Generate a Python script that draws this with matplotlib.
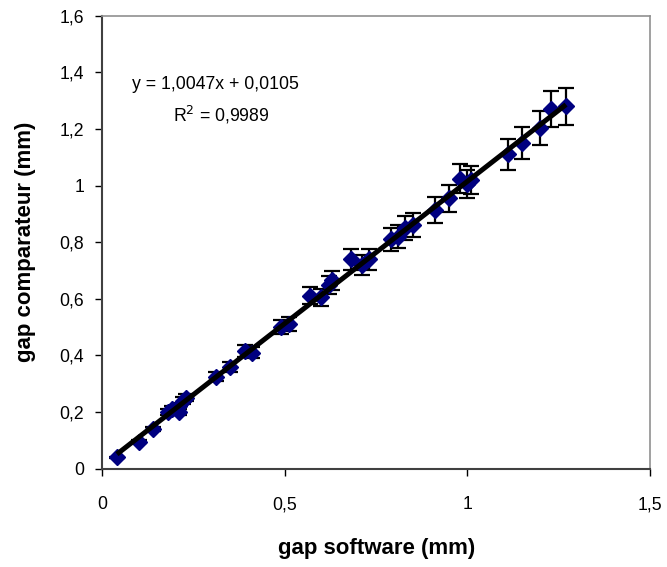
import numpy as np
import matplotlib
matplotlib.use("Agg")
import matplotlib.pyplot as plt
from matplotlib.ticker import FuncFormatter

plt.rcParams['font.family'] = ['Liberation Sans', 'DejaVu Sans']

# measured gaps (mm)
gap_software = [0.04, 0.10, 0.14, 0.18, 0.19, 0.21, 0.21, 0.22, 0.23, 0.31,
                0.35, 0.39, 0.41, 0.49, 0.51, 0.57, 0.60, 0.62, 0.63, 0.68,
                0.71, 0.73, 0.79, 0.81, 0.83, 0.85, 0.91, 0.95, 0.98, 1.00,
                1.01, 1.11, 1.15, 1.20, 1.23, 1.27]
gap_comparateur = [0.04, 0.095, 0.14, 0.20, 0.21, 0.20, 0.22, 0.24, 0.25, 0.325,
                   0.36, 0.415, 0.41, 0.50, 0.51, 0.61, 0.605, 0.65, 0.665, 0.74,
                   0.72, 0.74, 0.81, 0.82, 0.85, 0.86, 0.915, 0.955, 1.025, 1.005,
                   1.02, 1.11, 1.15, 1.205, 1.27, 1.28]
err_comparateur = [0.002, 0.005, 0.007, 0.010, 0.010, 0.010, 0.011, 0.012, 0.012, 0.016,
                   0.018, 0.021, 0.020, 0.025, 0.025, 0.030, 0.030, 0.032, 0.033, 0.037,
                   0.036, 0.037, 0.040, 0.041, 0.042, 0.043, 0.046, 0.048, 0.051, 0.050,
                   0.051, 0.055, 0.057, 0.060, 0.063, 0.064]

# linear trendline as given on the chart
slope = 1.0047
intercept = 0.0105
r2 = 0.9989

fig = plt.figure(figsize=(6.67, 5.67), dpi=100)
ax = fig.add_axes([0.1534, 0.1737, 0.9745 - 0.1534, 0.972 - 0.1737])

ax.errorbar(gap_software, gap_comparateur, yerr=err_comparateur, fmt='D',
            color='#000080', markersize=8, ecolor='black', elinewidth=1.6,
            capsize=5.5, capthick=1.6, zorder=2)

xs = np.array([min(gap_software), max(gap_software)])
ax.plot(xs, slope * xs + intercept, color='black', lw=3.6, zorder=3,
        solid_capstyle='butt')

def comma(v, pos):
    s = ('%g' % round(v, 2))
    return s.replace('.', ',')

ax.set_xlim(0, 1.5)
ax.set_ylim(0, 1.6)
ax.set_xticks([0, 0.5, 1, 1.5])
ax.set_yticks(np.arange(0, 1.61, 0.2))
ax.xaxis.set_major_formatter(FuncFormatter(comma))
ax.yaxis.set_major_formatter(FuncFormatter(comma))
ax.tick_params(direction='out', length=5, width=1, labelsize=12.7, colors='black')
ax.tick_params(axis='x', pad=15)
ax.tick_params(axis='y', pad=8)

for side in ['left', 'bottom']:
    ax.spines[side].set_color('#404040')
    ax.spines[side].set_linewidth(1.5)
for side in ['top', 'right']:
    ax.spines[side].set_color('#909090')
    ax.spines[side].set_linewidth(1.2)

ax.set_xlabel('gap software (mm)', fontsize=16, fontweight='bold', labelpad=18)
ax.set_ylabel('gap comparateur (mm)', fontsize=16, fontweight='bold', labelpad=17)

ax.text(0.081, 1.340, 'y = 1,0047x + 0,0105', fontsize=12.7, ha='left', va='baseline')
ax.text(0.194, 1.228, 'R$^2$ = 0,9989', fontsize=12.7, ha='left', va='baseline')

fig.savefig('out.png', dpi=100)
